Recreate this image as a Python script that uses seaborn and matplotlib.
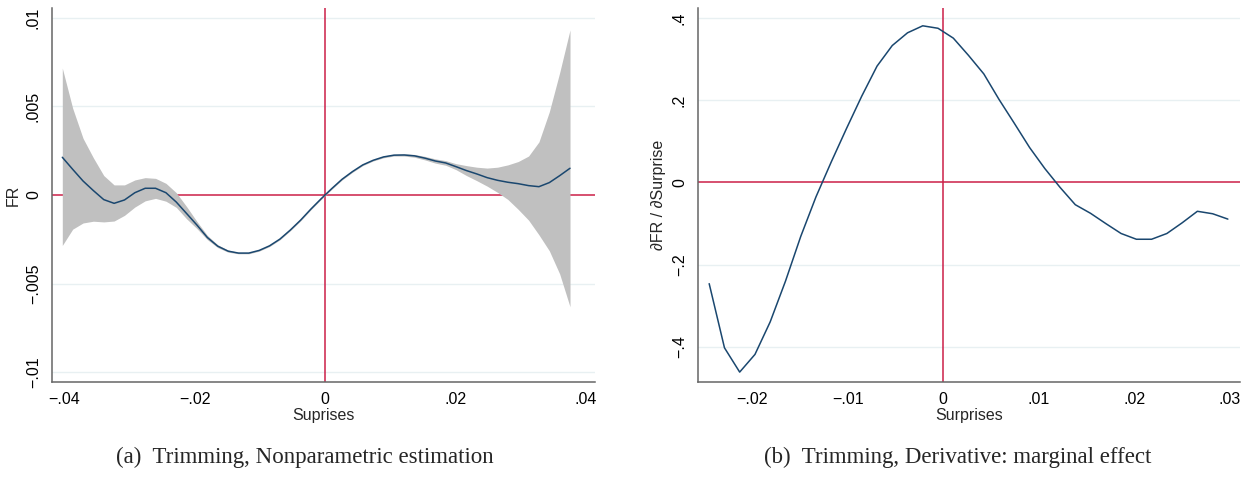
import numpy as np
import pandas as pd
import matplotlib
matplotlib.use("Agg")
import matplotlib.pyplot as plt
import seaborn as sns
from matplotlib.ticker import FixedLocator, FixedFormatter

# ---------------- data: panel (a) ----------------
surprise_a = [-0.04026, -0.03867, -0.03708, -0.03550, -0.03391, -0.03232, -0.03073, -0.02914,
              -0.02756, -0.02597, -0.02438, -0.02279, -0.02120, -0.01962, -0.01803, -0.01644,
              -0.01485, -0.01326, -0.01168, -0.01009, -0.00850, -0.00691, -0.00532, -0.00374,
              -0.00215, -0.00056, 0.00103, 0.00262, 0.00420, 0.00579, 0.00738, 0.00897,
              0.01056, 0.01214, 0.01373, 0.01532, 0.01691, 0.01850, 0.02008, 0.02167,
              0.02326, 0.02485, 0.02644, 0.02802, 0.02961, 0.03120, 0.03279, 0.03438,
              0.03596, 0.03755]
fr_mean = [0.00213, 0.00145, 0.00079, 0.00025, -0.00026, -0.00047, -0.00028, 0.00013,
           0.00038, 0.00038, 0.00013, -0.00040, -0.00105, -0.00170, -0.00240, -0.00289,
           -0.00317, -0.00328, -0.00328, -0.00313, -0.00287, -0.00249, -0.00198, -0.00142,
           -0.00079, -0.00020, 0.00036, 0.00089, 0.00132, 0.00170, 0.00196, 0.00215,
           0.00225, 0.00226, 0.00221, 0.00208, 0.00192, 0.00181, 0.00160, 0.00138,
           0.00119, 0.00098, 0.00083, 0.00072, 0.00064, 0.00053, 0.00047, 0.00070,
           0.00109, 0.00151]
fr_upper = [0.00717, 0.00490, 0.00320, 0.00210, 0.00110, 0.00057, 0.00057, 0.00085,
            0.00098, 0.00094, 0.00066, 0.00013, -0.00066, -0.00150, -0.00228, -0.00281,
            -0.00311, -0.00324, -0.00324, -0.00309, -0.00283, -0.00245, -0.00194, -0.00138,
            -0.00075, -0.00016, 0.00040, 0.00093, 0.00136, 0.00174, 0.00200, 0.00220,
            0.00230, 0.00232, 0.00229, 0.00218, 0.00204, 0.00194, 0.00177, 0.00166,
            0.00157, 0.00152, 0.00157, 0.00170, 0.00189, 0.00220, 0.00300, 0.00470,
            0.00690, 0.00932]
fr_lower = [-0.00285, -0.00193, -0.00158, -0.00148, -0.00152, -0.00147, -0.00115, -0.00068,
            -0.00033, -0.00019, -0.00035, -0.00070, -0.00135, -0.00190, -0.00252, -0.00297,
            -0.00323, -0.00332, -0.00332, -0.00317, -0.00291, -0.00253, -0.00202, -0.00146,
            -0.00083, -0.00024, 0.00032, 0.00085, 0.00128, 0.00166, 0.00192, 0.00210,
            0.00220, 0.00220, 0.00213, 0.00198, 0.00180, 0.00168, 0.00143, 0.00110,
            0.00081, 0.00050, 0.00015, -0.00025, -0.00081, -0.00142, -0.00225, -0.00315,
            -0.00445, -0.00631]

# ---------------- data: panel (b) ----------------
surprise_b = [-0.02448, -0.02288, -0.02129, -0.01969, -0.01810, -0.01650, -0.01490, -0.01331,
              -0.01171, -0.01012, -0.00852, -0.00692, -0.00533, -0.00373, -0.00214, -0.00054,
              0.00106, 0.00265, 0.00425, 0.00584, 0.00744, 0.00904, 0.01063, 0.01223,
              0.01382, 0.01542, 0.01702, 0.01861, 0.02021, 0.02180, 0.02340, 0.02500,
              0.02659, 0.02819, 0.02978]
marginal = [-0.246, -0.402, -0.461, -0.418, -0.339, -0.240, -0.131, -0.035, 0.050, 0.131,
            0.210, 0.283, 0.333, 0.364, 0.381, 0.375, 0.351, 0.309, 0.264, 0.202,
            0.144, 0.085, 0.034, -0.012, -0.054, -0.075, -0.100, -0.124, -0.138, -0.138,
            -0.124, -0.098, -0.070, -0.076, -0.089]

# ---------------- ticks / labels ----------------
xticks_a = [-0.04, -0.02, 0.0, 0.02, 0.04]
xticklabels_a = ["\u2212.04", "\u2212.02", "0", ".02", ".04"]
yticks_a = [-0.01, -0.005, 0.0, 0.005, 0.01]
yticklabels_a = ["\u2212.01", "\u2212.005", "0", ".005", ".01"]
xticks_b = [-0.02, -0.01, 0.0, 0.01, 0.02, 0.03]
xticklabels_b = ["\u2212.02", "\u2212.01", "0", ".01", ".02", ".03"]
yticks_b = [-0.4, -0.2, 0.0, 0.2, 0.4]
yticklabels_b = ["\u2212.4", "\u2212.2", "0", ".2", ".4"]

xlabel_a = "Suprises"
ylabel_a = "FR"
xlabel_b = "Surprises"
ylabel_b = "\u2202FR / \u2202Surprise"
caption_a = "(a)  Trimming, Nonparametric estimation"
caption_b = "(b)  Trimming, Derivative: marginal effect"

# ---------------- style ----------------
sns.set_theme(style="white")
plt.rcParams["font.family"] = ["Liberation Sans", "DejaVu Sans"]

NAVY = "#1a476f"
BAND = "#c0c0c0"
RED = "#cc1f48"
SPINE = "#666666"
GRID = "#e8f0f2"
FS = 11.5

W, H = 1253, 490
fig = plt.figure(figsize=(W / 100, H / 100), dpi=100)
fig.patch.set_facecolor("white")

ax_a = fig.add_axes([52 / W, 1 - 382 / H, (595 - 52) / W, (382 - 8) / H])
ax_b = fig.add_axes([698 / W, 1 - 382 / H, (1240 - 698) / W, (382 - 8) / H])

df_a = pd.DataFrame({"x": surprise_a, "y": fr_mean, "lo": fr_lower, "hi": fr_upper})
df_b = pd.DataFrame({"x": surprise_b, "y": marginal})

# panel a
ax_a.fill_between(df_a["x"], df_a["lo"], df_a["hi"], color=BAND, lw=0, zorder=3)
sns.lineplot(data=df_a, x="x", y="y", ax=ax_a, color=NAVY, lw=1.1, zorder=4,
             estimator=None, sort=False)
# panel b
sns.lineplot(data=df_b, x="x", y="y", ax=ax_b, color=NAVY, lw=1.1, zorder=4,
             estimator=None, sort=False)


def style_axis(ax, xlim, ylim, xt, xtl, yt, ytl, xl, yl, ylabelpad):
    ax.set_xlim(*xlim)
    ax.set_ylim(*ylim)
    ax.axhline(0, color=RED, lw=1.1, zorder=2)
    ax.axvline(0, color=RED, lw=1.1, zorder=2)
    for t in yt:
        if t != 0:
            ax.axhline(t, color=GRID, lw=1.0, zorder=1)
    ax.xaxis.set_major_locator(FixedLocator(xt))
    ax.xaxis.set_major_formatter(FixedFormatter(xtl))
    ax.yaxis.set_major_locator(FixedLocator(yt))
    ax.yaxis.set_major_formatter(FixedFormatter(ytl))
    for s in ["top", "right"]:
        ax.spines[s].set_visible(False)
    for s in ["left", "bottom"]:
        ax.spines[s].set_color(SPINE)
        ax.spines[s].set_linewidth(1.1)
    ax.tick_params(axis="both", direction="out", length=5, width=1.0, color=SPINE,
                   labelsize=FS, labelcolor="black", pad=2)
    ax.tick_params(axis="y", pad=3)
    for lab in ax.get_yticklabels():
        lab.set_rotation(90)
        lab.set_va("center")
    ax.set_xlabel(xl, fontsize=FS, labelpad=1)
    ax.set_ylabel(yl, fontsize=FS, labelpad=ylabelpad)
    ax.set_facecolor("white")


style_axis(ax_a, (-0.04184, 0.04138), (-0.01056, 0.01056), xticks_a, xticklabels_a,
           yticks_a, yticklabels_a, xlabel_a, ylabel_a, 4)
style_axis(ax_b, (-0.02565, 0.03105), (-0.4851, 0.4243), xticks_b, xticklabels_b,
           yticks_b, yticklabels_b, xlabel_b, ylabel_b, 4)

fig.text(305 / W, 1 - 457 / H, caption_a, ha="center", va="center",
         family=["Liberation Serif", "DejaVu Serif"], fontsize=16.5)
fig.text(958 / W, 1 - 457 / H, caption_b, ha="center", va="center",
         family=["Liberation Serif", "DejaVu Serif"], fontsize=16.5)

fig.savefig("out.png", dpi=100, facecolor="white")
